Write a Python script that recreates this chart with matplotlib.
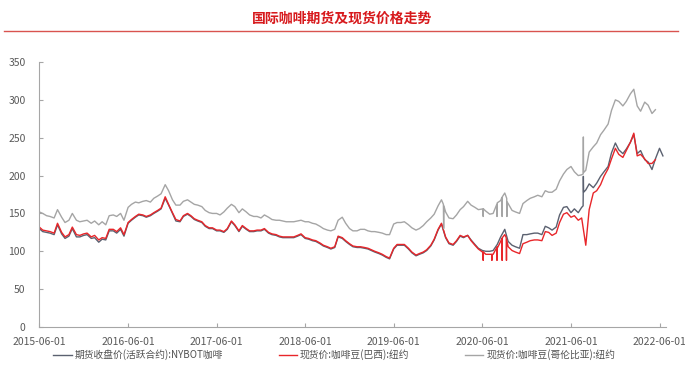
import pandas as pd
import matplotlib
matplotlib.use('Agg')
import matplotlib.pyplot as plt
import matplotlib.dates as mdates
from matplotlib.lines import Line2D

plt.rcParams['font.family'] = ['Noto Sans CJK SC', 'DejaVu Sans']

# semi-monthly readings (1st and 15th)
dates = pd.date_range('2015-06-01', '2022-06-15', freq='SMS')

# 现货价:咖啡豆(哥伦比亚):纽约
colombia = [
    152,150, 147,146, 144,155, 145,138, 141,150, 141,139, 140,141,                          # 2015
    137,140, 135,139, 135,147, 148,146, 150,141, 158,162, 165,164, 166,167, 165,170, 173,176, 188,180, 168,161,  # 2016
    161,166, 168,165, 162,161, 159,154, 151,150, 150,148, 152,157, 162,159, 151,156, 152,148, 146,146, 144,148,  # 2017
    145,142, 141,141, 140,139, 139,139, 140,141, 139,139, 137,136, 133,130, 128,127, 129,141, 145,137, 130,127,  # 2018
    127,129, 129,127, 126,126, 125,124, 122,122, 136,138, 138,139, 135,131, 128,130, 134,139, 144,149, 160,168,  # 2019
    152,144, 143,148, 155,159, 166,161, 158,155, 156,153, 149,150, 161,167, 177,163, 154,152, 150,163, 167,170,  # 2020
    172,174, 172,180, 178,178, 182,193, 202,208, 212,205, 200,201, 207,231, 238,243, 254,260, 268,286, 300,298,  # 2021
    292,298, 308,314, 292,285, 297,293, 282,287,                                            # 2022
]

# 现货价:咖啡豆(巴西):纽约
brazil = [
    132,128, 127,126, 124,137, 125,119, 122,132, 122,121, 123,124,
    119,121, 115,118, 117,129, 129,126, 131,122, 138,142, 146,149, 148,146, 148,151, 154,157, 172,162, 151,142,
    140,147, 150,147, 143,141, 139,134, 131,131, 128,128, 126,130, 140,135, 127,134, 130,127, 127,128, 128,130,
    125,123, 122,120, 119,119, 119,119, 121,123, 118,117, 115,114, 111,108, 106,104, 106,120, 118,114, 110,107,
    106,106, 105,104, 102,100, 98,96, 93,91, 104,109, 109,109, 104,99, 95,97, 99,102, 108,116, 129,137,
    119,111, 109,114, 121,119, 121,114, 108,103, 99,96, 96,96, 104,113, 122,106, 101,99, 97,110, 112,114,
    115,115, 114,126, 125,121, 124,138, 149,151, 145,147, 141,144, 108,155, 177,180, 188,199, 209,222, 236,228,
    224,233, 244,256, 226,228, 222,216, 216,221,
]

# 期货收盘价(活跃合约):NYBOT咖啡
futures = [
    130,126, 125,124, 122,135, 123,117, 120,130, 119,119, 121,122,
    117,118, 112,116, 115,127, 127,124, 129,120, 137,141, 145,148, 147,145, 147,150, 153,156, 170,161, 150,140,
    139,146, 149,146, 142,140, 138,133, 130,130, 127,127, 125,129, 139,134, 126,133, 129,126, 126,127, 127,129,
    124,122, 121,119, 118,118, 118,118, 120,122, 117,116, 114,113, 110,107, 105,103, 105,119, 117,113, 109,106,
    105,105, 104,103, 101,99, 97,95, 92,90, 103,108, 108,108, 103,98, 94,96, 98,101, 107,115, 128,136,
    118,110, 108,113, 120,118, 121,115, 109,104, 101,100, 100,101, 109,119, 129,113, 108,106, 104,122, 122,123,
    124,124, 122,133, 131,128, 132,148, 158,159, 151,156, 151,158, 181,189, 184,190, 199,205, 212,230, 243,234,
    229,235, 244,254, 229,233, 221,218, 208,222, 236,226,
]

# single-day spikes
colombia_spike_dates = ['2019-12-23', '2019-12-24', '2019-12-25',
                        '2020-06-03', '2020-06-04', '2020-06-05',
                        '2020-07-30', '2020-07-31', '2020-08-01',
                        '2020-08-20', '2020-08-21', '2020-08-22',
                        '2020-09-09', '2020-09-10', '2020-09-11',
                        '2021-07-21', '2021-07-22', '2021-07-23']
colombia_spike_vals = [162, 130, 160,
                       156, 146, 156,
                       162, 146, 164,
                       171, 146, 172,
                       170, 146, 165,
                       202, 251, 204]

brazil_spike_dates = ['2020-06-03', '2020-06-04', '2020-06-05',
                      '2020-07-09', '2020-07-10', '2020-07-11',
                      '2020-07-30', '2020-07-31', '2020-08-01',
                      '2020-08-20', '2020-08-21', '2020-08-22',
                      '2020-09-07', '2020-09-08', '2020-09-09']
brazil_spike_vals = [99, 88, 99,
                     96, 88, 96,
                     105, 88, 106,
                     117, 88, 118,
                     118, 88, 115]

futures_spike_dates = ['2021-07-21', '2021-07-22', '2021-07-23']
futures_spike_vals = [160, 199, 178]


def build(vals, sdates, svals):
    s = pd.Series(vals, index=dates[:len(vals)])
    extra = pd.Series(svals, index=pd.to_datetime(sdates))
    return pd.concat([s, extra]).sort_index()


fut = build(futures, futures_spike_dates, futures_spike_vals)
bra = build(brazil, brazil_spike_dates, brazil_spike_vals)
col = build(colombia, colombia_spike_dates, colombia_spike_vals)

fig = plt.figure(figsize=(6.85, 3.79), dpi=100)
ax = fig.add_axes([0.0574, 0.1372, 0.9146, 0.6992])

ax.plot(fut.index, fut.values, color='#5b6170', lw=1.0, label='期货收盘价(活跃合约):NYBOT咖啡')
ax.plot(bra.index, bra.values, color='#e8262a', lw=1.0, label='现货价:咖啡豆(巴西):纽约')
ax.plot(col.index, col.values, color='#a5a5a5', lw=1.0, label='现货价:咖啡豆(哥伦比亚):纽约')

ax.set_ylim(0, 350)
ax.set_yticks(range(0, 351, 50))
ax.set_xlim(pd.Timestamp('2015-06-01'), pd.Timestamp('2022-06-27'))
ax.set_xticks(pd.to_datetime(['%d-06-01' % y for y in range(2015, 2023)]))
ax.xaxis.set_major_formatter(mdates.DateFormatter('%Y-%m-%d'))

for side in ['top', 'right']:
    ax.spines[side].set_visible(False)
for side in ['left', 'bottom']:
    ax.spines[side].set_color('#a6a6a6')
ax.tick_params(axis='both', direction='in', length=3, color='#a6a6a6',
               labelsize=7.5, labelcolor='#595959')
ax.tick_params(axis='y', pad=10)
ax.tick_params(axis='x', pad=7)

ax.legend(loc='center', bbox_to_anchor=(0.471, -0.105), ncol=3, frameon=False,
          fontsize=7, handlelength=1.9, columnspacing=5.7, handletextpad=0.3,
          labelcolor='#505050')

fig.text(0.5, 0.952, '国际咖啡期货及现货价格走势', ha='center', va='center',
         fontsize=10, fontweight='bold', color='#d7191c')
fig.add_artist(Line2D([0.006, 0.99], [0.918, 0.918], transform=fig.transFigure,
                      color='#d9534f', lw=1.0))

fig.savefig('out.png', dpi=100)
